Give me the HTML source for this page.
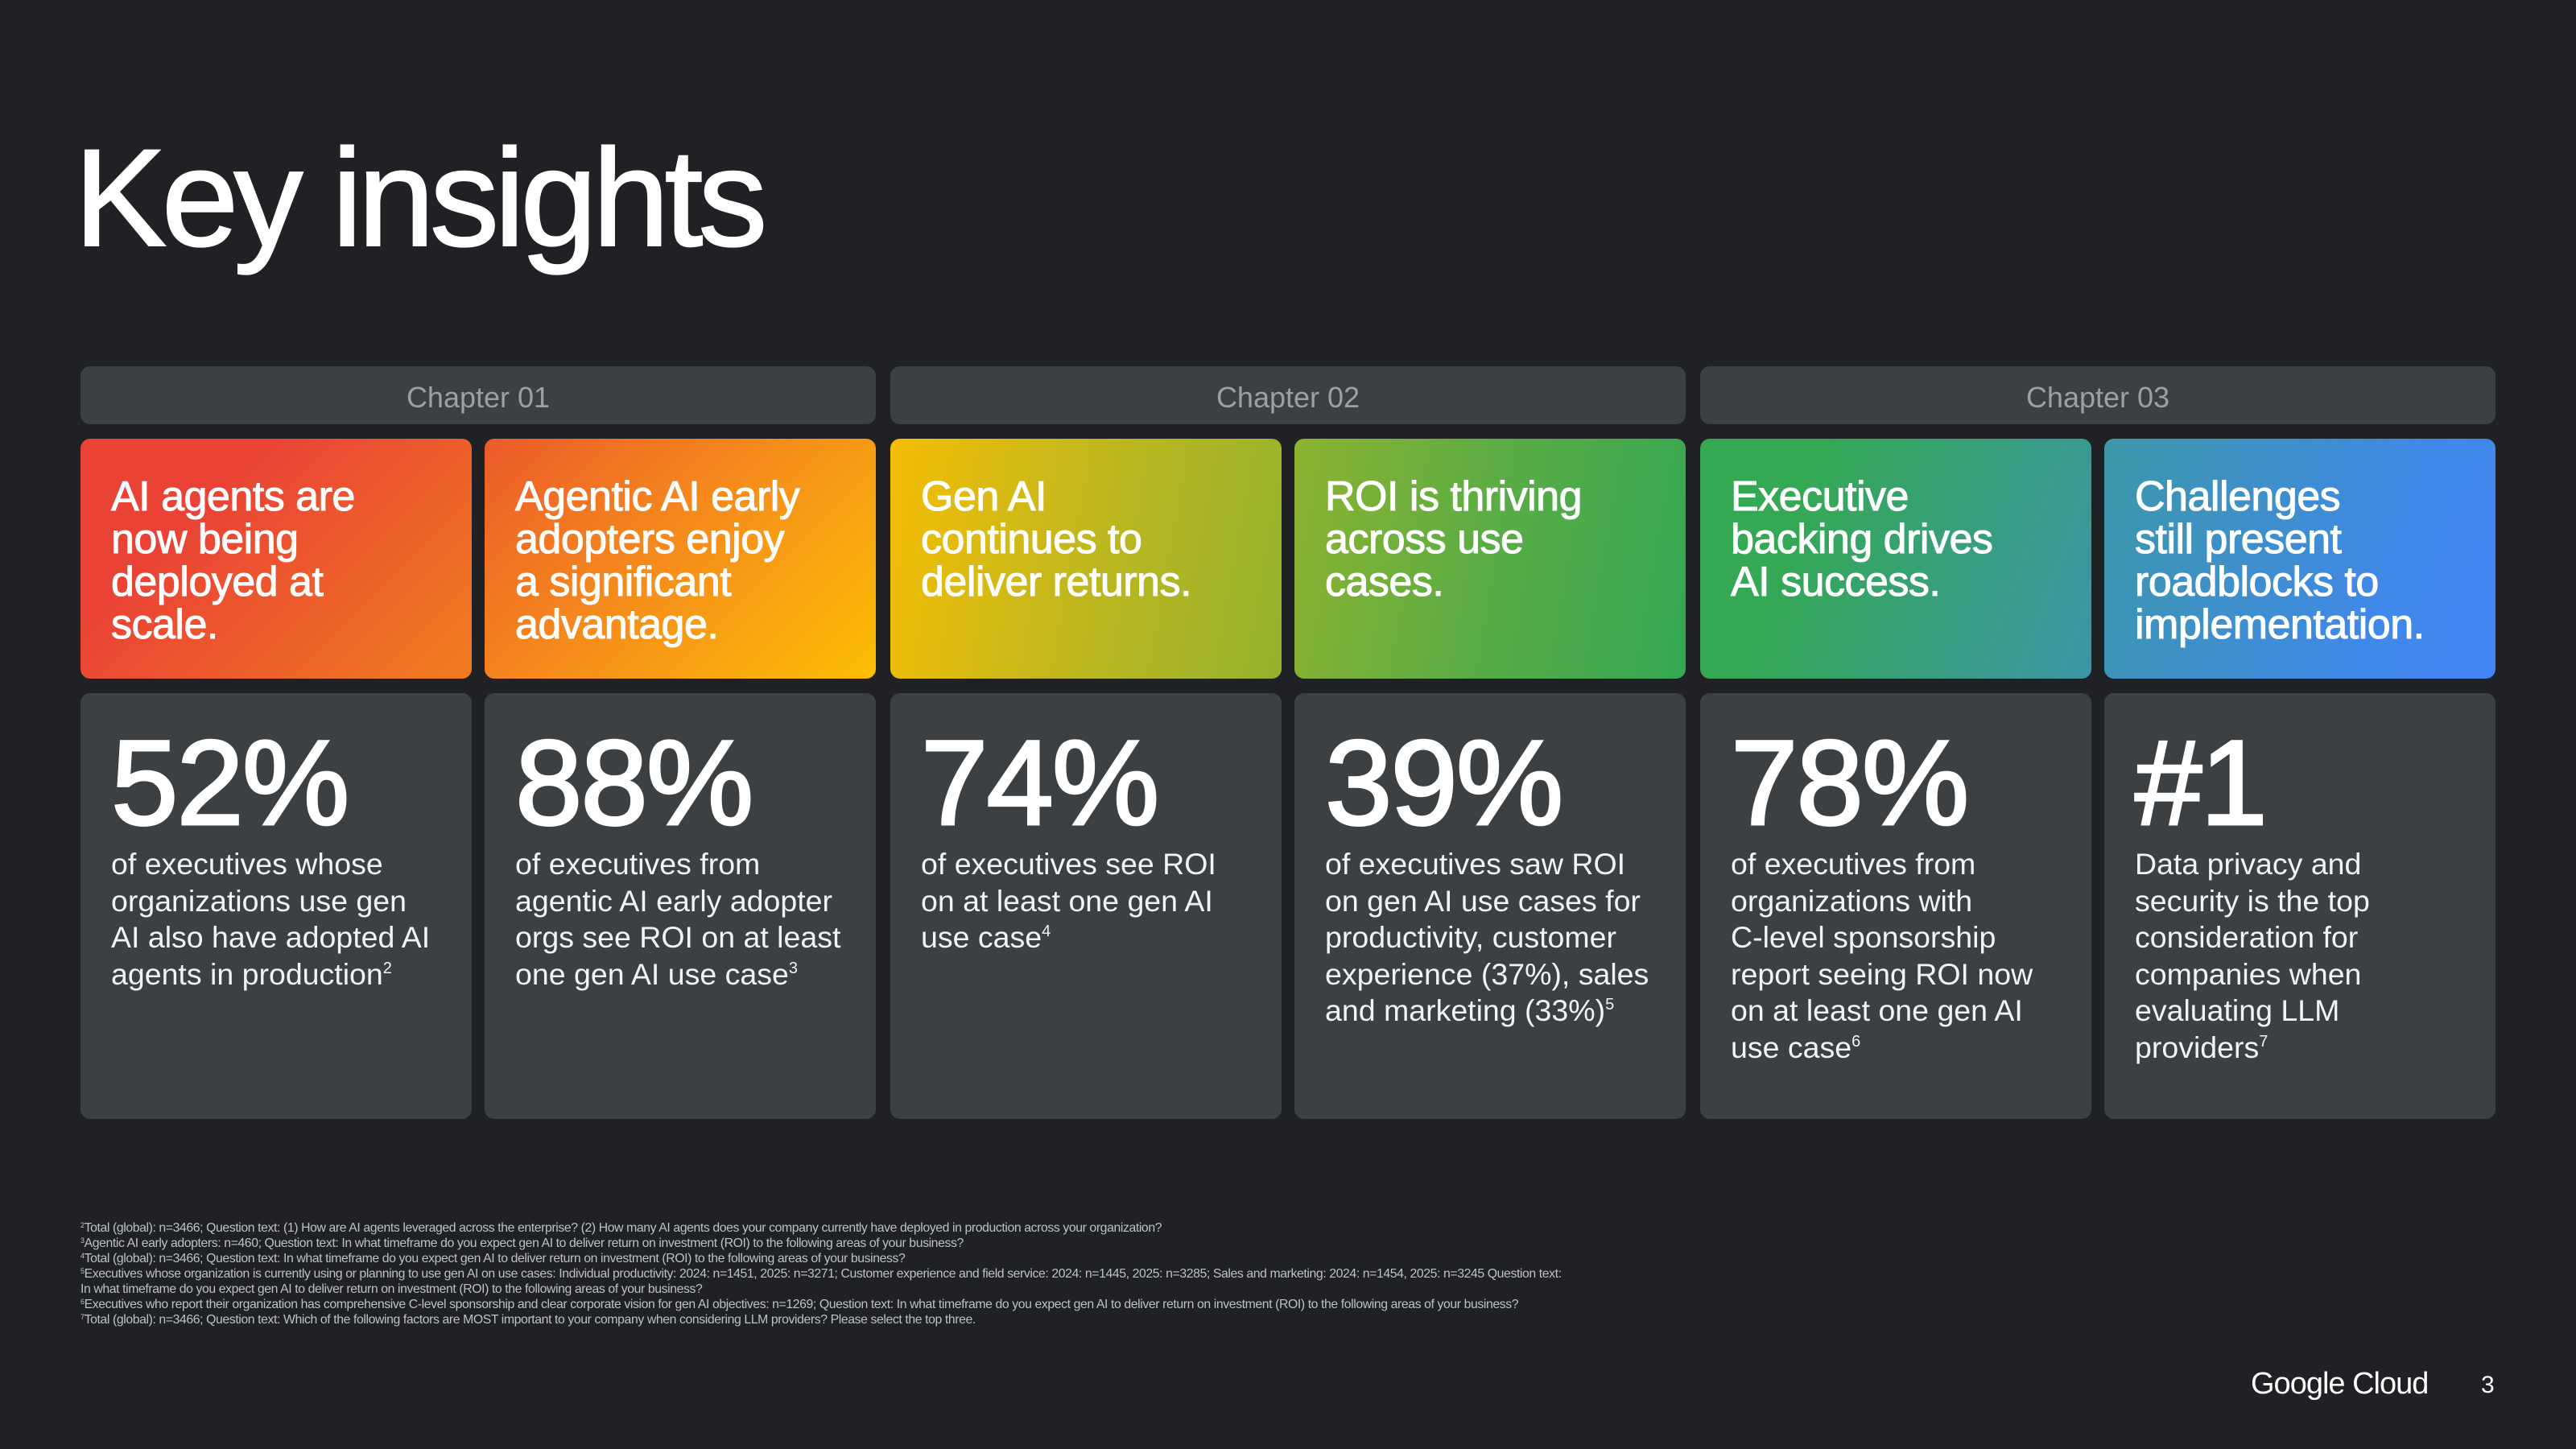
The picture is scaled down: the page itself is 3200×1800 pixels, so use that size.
<!DOCTYPE html>
<html><head><meta charset="utf-8"><style>
*{margin:0;padding:0;box-sizing:border-box}
body{width:3200px;height:1800px;background:#202124;font-family:"Liberation Sans",sans-serif;color:#fff;position:relative;overflow:hidden}
.title{position:absolute;left:92px;top:160px;font-size:172px;letter-spacing:-6px;line-height:1;-webkit-text-stroke:2px #fff}
.chap{position:absolute;top:455px;height:72px;width:988px;background:#3c4043;border-radius:12px;color:#9aa0a6;font-size:36px;text-align:center;line-height:78px}
.top{position:absolute;top:545px;height:298px;width:486px;border-radius:12px;padding:46px 0 0 38px;font-size:52px;line-height:53px;letter-spacing:-0.5px;white-space:nowrap;-webkit-text-stroke:1px #fff}
.bot{position:absolute;top:861px;height:529px;width:486px;border-radius:12px;background:#3c4043;padding:0 0 0 38px}
.num{font-size:150px;line-height:1;margin-top:36px;letter-spacing:-2px;-webkit-text-stroke:3px #fff}
.txt{font-size:37.5px;line-height:45.5px;margin-top:4px;color:#f1f3f4;white-space:nowrap}
sup{font-size:20px;vertical-align:14px;line-height:0}
.fn{position:absolute;left:100px;top:1516px;font-size:15.8px;line-height:19px;color:#bdc1c6;letter-spacing:-0.4px;white-space:nowrap}
.fn sup{font-size:9px;vertical-align:5px}
</style></head><body>
<div class="title">Key insights</div>
<div class="chap" style="left:100px">Chapter 01</div>
<div class="chap" style="left:1106px">Chapter 02</div>
<div class="chap" style="left:2112px">Chapter 03</div>

<div class="top" style="left:100px;background:linear-gradient(135deg,#ea4335 30%,#f17d20 100%)">AI agents are<br>now being<br>deployed at<br>scale.</div>
<div class="top" style="left:602px;background:linear-gradient(135deg,#ec5a2b 0%,#f58a1c 45%,#fcbf04 100%)">Agentic AI early<br>adopters enjoy<br>a significant<br>advantage.</div>
<div class="top" style="left:1106px;background:linear-gradient(100deg,#f6bd04 0%,#c4b81c 45%,#94b22e 100%)">Gen AI<br>continues to<br>deliver returns.</div>
<div class="top" style="left:1608px;background:linear-gradient(100deg,#8db330 0%,#5aac45 50%,#34a853 100%)">ROI is thriving<br>across use<br>cases.</div>
<div class="top" style="left:2112px;background:linear-gradient(110deg,#34a853 25%,#3b96a6 100%)">Executive<br>backing drives<br>AI success.</div>
<div class="top" style="left:2614px;background:linear-gradient(110deg,#3c98a8 0%,#4088e8 70%,#4285f4 100%)">Challenges<br>still present<br>roadblocks to<br>implementation.</div>

<div class="bot" style="left:100px"><div class="num">52%</div><div class="txt">of executives whose<br>organizations use gen<br>AI also have adopted AI<br>agents in production<sup>2</sup></div></div>
<div class="bot" style="left:602px"><div class="num">88%</div><div class="txt">of executives from<br>agentic AI early adopter<br>orgs see ROI on at least<br>one gen AI use case<sup>3</sup></div></div>
<div class="bot" style="left:1106px"><div class="num">74%</div><div class="txt">of executives see ROI<br>on at least one gen AI<br>use case<sup>4</sup></div></div>
<div class="bot" style="left:1608px"><div class="num">39%</div><div class="txt">of executives saw ROI<br>on gen AI use cases for<br>productivity, customer<br>experience (37%), sales<br>and marketing (33%)<sup>5</sup></div></div>
<div class="bot" style="left:2112px"><div class="num">78%</div><div class="txt">of executives from<br>organizations with<br>C-level sponsorship<br>report seeing ROI now<br>on at least one gen AI<br>use case<sup>6</sup></div></div>
<div class="bot" style="left:2614px"><div class="num">#1</div><div class="txt">Data privacy and<br>security is the top<br>consideration for<br>companies when<br>evaluating LLM<br>providers<sup>7</sup></div></div>

<div class="fn">
<sup>2</sup>Total (global): n=3466; Question text: (1) How are AI agents leveraged across the enterprise? (2) How many AI agents does your company currently have deployed in production across your organization?<br>
<sup>3</sup>Agentic AI early adopters: n=460; Question text: In what timeframe do you expect gen AI to deliver return on investment (ROI) to the following areas of your business?<br>
<sup>4</sup>Total (global): n=3466; Question text: In what timeframe do you expect gen AI to deliver return on investment (ROI) to the following areas of your business?<br>
<sup>5</sup>Executives whose organization is currently using or planning to use gen AI on use cases: Individual productivity: 2024: n=1451, 2025: n=3271; Customer experience and field service: 2024: n=1445, 2025: n=3285; Sales and marketing: 2024: n=1454, 2025: n=3245 Question text:<br>
In what timeframe do you expect gen AI to deliver return on investment (ROI) to the following areas of your business?<br>
<sup>6</sup>Executives who report their organization has comprehensive C-level sponsorship and clear corporate vision for gen AI objectives: n=1269; Question text: In what timeframe do you expect gen AI to deliver return on investment (ROI) to the following areas of your business?<br>
<sup>7</sup>Total (global): n=3466; Question text: Which of the following factors are MOST important to your company when considering LLM providers? Please select the top three.
</div>
<div style="position:absolute;left:2796px;top:1698px;font-size:38px;letter-spacing:-1px">Google Cloud</div>
<div style="position:absolute;left:3082px;top:1704px;font-size:30px">3</div>
</body></html>
